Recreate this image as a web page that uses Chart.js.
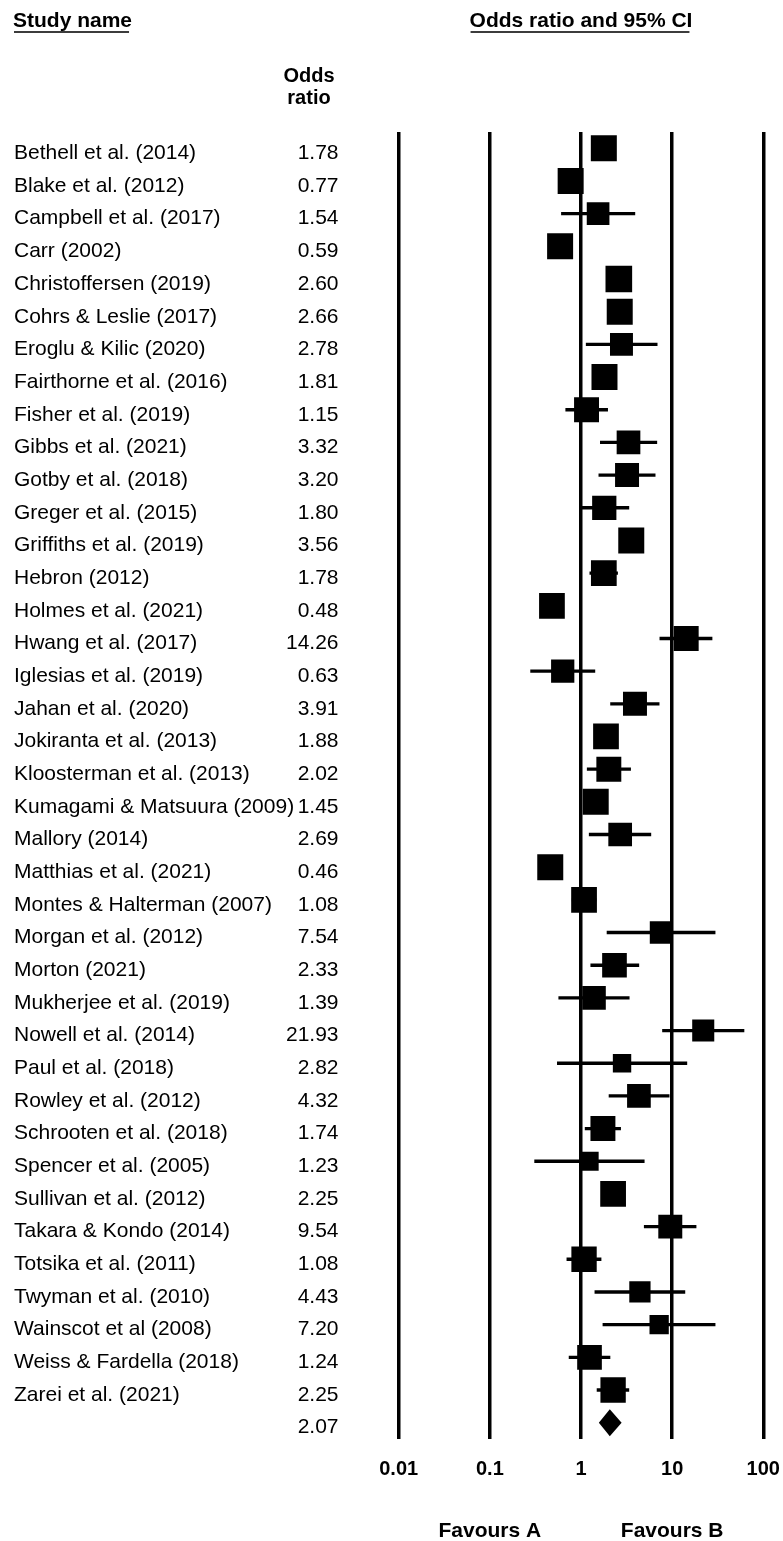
<!DOCTYPE html>
<html>
<head>
<meta charset="utf-8">
<title>Forest plot - odds ratio and 95% CI</title>
<script src="https://cdn.jsdelivr.net/npm/chart.js@4.4.1/dist/chart.umd.min.js"></script>
<style>
  html, body { margin: 0; padding: 0; background: #fff; }
  #wrap { width: 783px; height: 1541px; }
</style>
</head>
<body>
<div id="wrap"><canvas id="forest-chart" width="783" height="1541"></canvas></div>
<script>
'use strict';

// ******** DATA **************
let studyNames = [
  'Bethell et al. (2014)', 'Blake et al. (2012)', 'Campbell et al. (2017)', 'Carr (2002)',
  'Christoffersen (2019)', 'Cohrs & Leslie (2017)', 'Eroglu & Kilic (2020)', 'Fairthorne et al. (2016)',
  'Fisher et al. (2019)', 'Gibbs et al. (2021)', 'Gotby et al. (2018)', 'Greger et al. (2015)',
  'Griffiths et al. (2019)', 'Hebron (2012)', 'Holmes et al. (2021)', 'Hwang et al. (2017)',
  'Iglesias et al. (2019)', 'Jahan et al. (2020)', 'Jokiranta et al. (2013)', 'Kloosterman et al. (2013)',
  'Kumagami & Matsuura (2009)', 'Mallory (2014)', 'Matthias et al. (2021)', 'Montes & Halterman (2007)',
  'Morgan et al. (2012)', 'Morton (2021)', 'Mukherjee et al. (2019)', 'Nowell et al. (2014)',
  'Paul et al. (2018)', 'Rowley et al. (2012)', 'Schrooten et al. (2018)', 'Spencer et al. (2005)',
  'Sullivan et al. (2012)', 'Takara & Kondo (2014)', 'Totsika et al. (2011)', 'Twyman et al. (2010)',
  'Wainscot et al (2008)', 'Weiss & Fardella (2018)', 'Zarei et al. (2021)'
];

let oddsRatios = [
  1.78, 0.77, 1.54, 0.59, 2.60, 2.66, 2.78, 1.81, 1.15, 3.32, 3.20, 1.80, 3.56,
  1.78, 0.48, 14.26, 0.63, 3.91, 1.88, 2.02, 1.45, 2.69, 0.46, 1.08, 7.54, 2.33,
  1.39, 21.93, 2.82, 4.32, 1.74, 1.23, 2.25, 9.54, 1.08, 4.43, 7.20, 1.24, 2.25
];

let lowerLimits = [
  1.62, 0.70, 0.61, 0.54, 2.35, 2.40, 1.14, 1.64, 0.68, 1.63, 1.57, 0.98, 3.22,
  1.25, 0.37, 7.33, 0.28, 2.11, 1.70, 1.17, 1.30, 1.23, 0.42, 0.80, 1.93, 1.28,
  0.57, 7.84, 0.55, 2.03, 1.11, 0.31, 2.03, 4.94, 0.70, 1.42, 1.74, 0.74, 1.50
];

let upperLimits = [
  1.96, 0.85, 3.90, 0.65, 2.88, 2.95, 6.85, 2.00, 1.96, 6.79, 6.51, 3.35, 3.94,
  2.52, 0.63, 27.4, 1.42, 7.20, 2.08, 3.50, 1.62, 5.84, 0.51, 1.46, 29.6, 4.31,
  3.38, 61.4, 14.5, 9.27, 2.72, 4.94, 2.49, 18.3, 1.66, 13.8, 29.6, 2.08, 3.35
];

// relative study weights (read from the square areas)
let studyWeights = [
  1.00, 1.00, 0.76, 1.00, 1.05, 1.00, 0.78, 1.00, 0.92, 0.83, 0.85, 0.87, 1.00,
  0.98, 0.98, 0.92, 0.80, 0.85, 0.98, 0.92, 1.00, 0.83, 1.00, 0.98, 0.74, 0.90,
  0.82, 0.72, 0.50, 0.83, 0.92, 0.53, 0.98, 0.85, 0.95, 0.67, 0.55, 0.90, 0.95
];

let summaryOddsRatio = 2.07;
let summaryLower = 1.57;
let summaryUpper = 2.79;

let axisTicks = [0.01, 0.1, 1, 10, 100];
let axisTickLabels = ['0.01', '0.1', '1', '10', '100'];
let favourLabels = ['Favours A', 'Favours B'];
let favourPositions = [0.1, 10];

// ******** HELPERS **************
const FONT = '"Liberation Sans", Arial, Helvetica, sans-serif';
let summaryRow = studyNames.length;

function fmt(v) {
  return v.toFixed(2);
}

function drawUnderlined(ctx, text, x, y, align) {
  ctx.textAlign = align;
  ctx.fillText(text, x, y);
  let w = ctx.measureText(text).width;
  let left = align === 'center' ? x - w / 2 : x;
  ctx.fillStyle = '#3c3c3c';
  ctx.fillRect(left + 1, y + 4, w - 4, 2);
  ctx.fillStyle = '#000';
}

// draws the header, the text columns and the summary diamond
let forestTextPlugin = {
  id: 'forestText',
  afterDatasetsDraw(chart) {
    let ctx = chart.ctx;
    let xs = chart.scales.x;
    let ys = chart.scales.y;

    // summary diamond
    let yc = ys.getPixelForValue(summaryRow);
    ctx.save();
    ctx.fillStyle = '#000';
    ctx.beginPath();
    ctx.moveTo(xs.getPixelForValue(summaryLower), yc);
    ctx.lineTo(xs.getPixelForValue(summaryOddsRatio), yc - 13.5);
    ctx.lineTo(xs.getPixelForValue(summaryUpper), yc);
    ctx.lineTo(xs.getPixelForValue(summaryOddsRatio), yc + 13.5);
    ctx.closePath();
    ctx.fill();
    ctx.restore();
  },
  afterDraw(chart) {
    let ctx = chart.ctx;
    let xs = chart.scales.x;
    let ys = chart.scales.y;
    ctx.save();
    ctx.fillStyle = '#000';
    ctx.textBaseline = 'alphabetic';

    // headers
    ctx.font = 'bold 21px ' + FONT;
    drawUnderlined(ctx, 'Study name', 13, 27, 'left');
    drawUnderlined(ctx, 'Odds ratio and 95% CI', xs.getPixelForValue(1), 27, 'center');
    ctx.font = 'bold 20px ' + FONT;
    ctx.textAlign = 'center';
    ctx.fillText('Odds', 309, 82);
    ctx.fillText('ratio', 309, 104);

    // study rows
    ctx.font = '21px ' + FONT;
    for (let i = 0; i < studyNames.length; i++) {
      let y = ys.getPixelForValue(i) + 10.8;
      ctx.textAlign = 'left';
      ctx.fillText(studyNames[i], 14, y);
      ctx.textAlign = 'right';
      ctx.fillText(fmt(oddsRatios[i]), 338.5, y);
    }
    ctx.textAlign = 'right';
    ctx.fillText(fmt(summaryOddsRatio), 338.5, ys.getPixelForValue(summaryRow) + 10.8);

    // favours labels
    ctx.font = 'bold 21px ' + FONT;
    ctx.textAlign = 'center';
    for (let i = 0; i < favourLabels.length; i++) {
      ctx.fillText(favourLabels[i], xs.getPixelForValue(favourPositions[i]), 1537);
    }
    ctx.restore();
  }
};

// ******** CHART **************
let forestCanvas = document.getElementById('forest-chart');

let chartSettings = {
  type: 'bar',
  data: {
    datasets: [
      {
        type: 'bar',
        label: '95% CI',
        indexAxis: 'y',
        data: studyNames.map((n, i) => ({ x: [lowerLimits[i], upperLimits[i]], y: i })),
        backgroundColor: '#000',
        borderWidth: 0,
        barThickness: 2.7,
        order: 2
      },
      {
        type: 'scatter',
        label: 'Odds ratio',
        data: studyNames.map((n, i) => ({ x: oddsRatios[i], y: i })),
        pointStyle: 'rect',
        pointRadius: studyWeights.map(w => 26 * Math.sqrt(w) / Math.SQRT2),
        pointHoverRadius: studyWeights.map(w => 26 * Math.sqrt(w) / Math.SQRT2),
        backgroundColor: '#000',
        borderWidth: 0,
        order: 1
      }
    ]
  },
  options: {
    responsive: false,
    animation: false,
    devicePixelRatio: 1,
    events: [],
    layout: {
      padding: { left: 398.7, right: 19.7, top: 132, bottom: 52 }
    },
    plugins: {
      legend: { display: false },
      tooltip: { enabled: false }
    },
    scales: {
      x: {
        type: 'logarithmic',
        position: 'bottom',
        offset: false,
        min: 0.01,
        max: 100,
        afterBuildTicks: scale => {
          scale.ticks = axisTicks.map(v => ({ value: v }));
        },
        afterFit: scale => {
          // keep the plot edges where the reference has them
          scale.height = 50;
          scale.paddingLeft = 0;
          scale.paddingRight = 0;
        },
        grid: { color: '#000', lineWidth: 3.5, drawTicks: false, offset: false },
        border: { display: false },
        ticks: {
          color: '#000',
          autoSkip: false,
          maxRotation: 0,
          padding: 18,
          font: { family: FONT, size: 20, weight: 'bold' },
          callback: (value, index) => axisTickLabels[index]
        }
      },
      y: {
        type: 'linear',
        offset: false,
        min: -0.5,
        max: summaryRow + 0.5,
        reverse: true,
        display: false,
        grid: { offset: false }
      }
    }
  },
  plugins: [forestTextPlugin]
};

new Chart(forestCanvas, chartSettings);
</script>
</body>
</html>
